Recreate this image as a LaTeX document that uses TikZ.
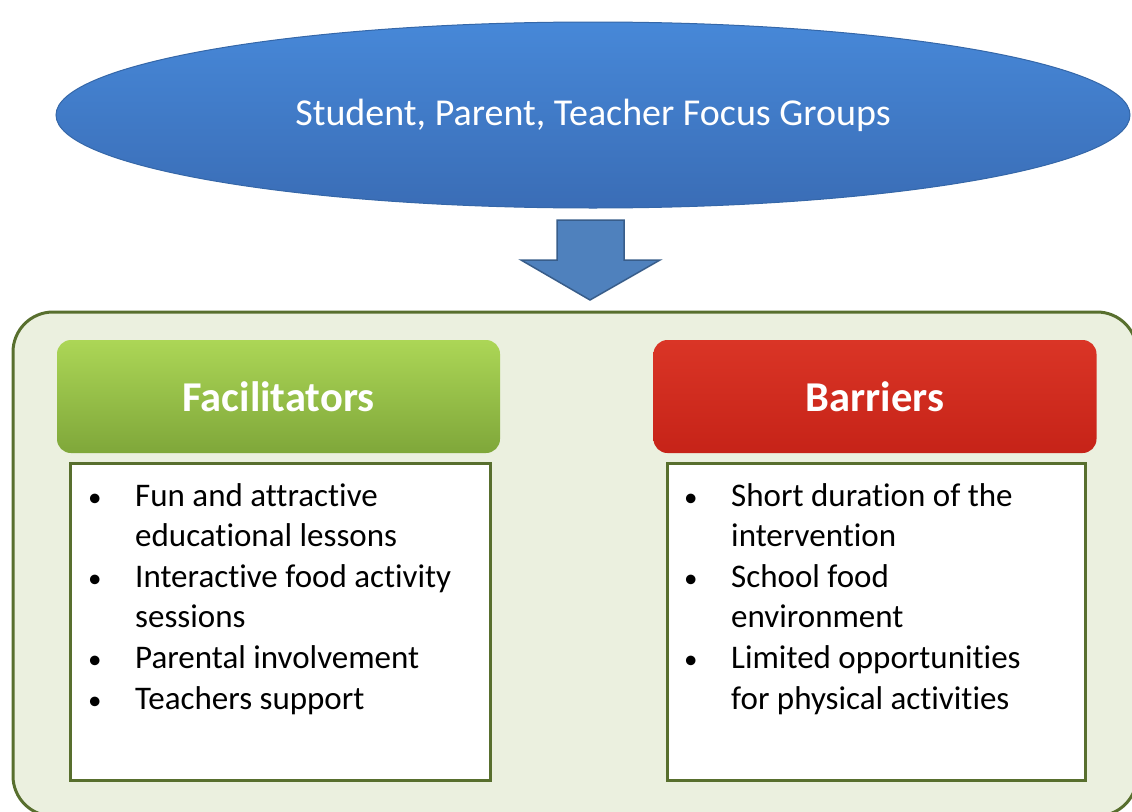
\documentclass[tikz,border=0pt]{standalone}
\usepackage{fontspec}
\setmainfont{Carlito}[Ligatures=NoCommon]
\usetikzlibrary{shapes.geometric, calc}

\definecolor{blueTop}{HTML}{4788D8}
\definecolor{blueBot}{HTML}{3A6DB6}
\definecolor{blueLine}{HTML}{3567A8}
\definecolor{arrowFill}{HTML}{4F81BD}
\definecolor{arrowLine}{HTML}{385D8A}
\definecolor{panelFill}{HTML}{EBF0DF}
\definecolor{oliveLine}{HTML}{586F2E}
\definecolor{greenTop}{HTML}{ACD656}
\definecolor{greenBot}{HTML}{7FA73A}
\definecolor{redTop}{HTML}{DA3526}
\definecolor{redBot}{HTML}{C62318}

\newcommand{\bitem}[1]{\makebox[47pt][l]{\fontsize{27}{27}\selectfont\textbullet}#1}
\newcommand{\bcont}[1]{\hspace*{47pt}#1}

\begin{document}
\begin{tikzpicture}[x=1pt, y=-1pt]
    \tikzstyle{groups} = [ellipse, minimum width=1074pt, minimum height=186pt, draw=blueLine, line width=1pt, top color=blueTop, bottom color=blueBot, text=white, font=\fontsize{38}{44}\selectfont]
    \tikzstyle{downarrow} = [draw=arrowLine, line width=1.5pt, fill=arrowFill, line join=miter]
    \tikzstyle{heading} = [rectangle, rounded corners=14pt, minimum width=443pt, minimum height=113pt, text=white, font=\fontsize{42.5}{48}\selectfont\bfseries, draw=none]
    \tikzstyle{listbox} = [rectangle, minimum height=317pt, draw=oliveLine, line width=3pt, fill=white]
    \tikzstyle{listtext} = [align=left, anchor=north west, inner sep=0pt, font=\fontsize{33}{40.6}\selectfont]

    \clip (0,0) rectangle (1132,811);

    % outer panel
    \draw [fill=panelFill, draw=oliveLine, line width=3pt, rounded corners=40pt] (13,312) rectangle (1137,816);

    \node (focus) [groups] at (593,115) {Student, Parent, Teacher Focus Groups};

    % block arrow
    \coordinate (down) at (590,260);
    \draw [downarrow] ($(down)+(-33,-40)$) -- ++(67,0) -- ++(0,40) -- ++(36,0)
        -- ($(down)+(0,40)$) -- ($(down)+(-69,0)$) -- ++(36,0) -- cycle;

    \node (facil) [heading, top color=greenTop, bottom color=greenBot] at (278.5,396.5) {Facilitators};
    \node (barr) [heading, top color=redTop, bottom color=redBot] at (875,396.5) {Barriers};

    \node (facilbox) [listbox, minimum width=420pt] at (280,621.5) {};
    \node (barrbox) [listbox, minimum width=418pt] at (876,621.5) {};

    \node (faciltext) [listtext] at (88,483) {\bitem{Fun and attractive}\\
        \bcont{educational lessons}\\
        \bitem{Interactive food activity}\\
        \bcont{sessions}\\
        \bitem{Parental involvement}\\
        \bitem{Teachers support}};
    \node (barrtext) [listtext] at (684,483) {\bitem{Short duration of the}\\
        \bcont{intervention}\\
        \bitem{School food}\\
        \bcont{environment}\\
        \bitem{Limited opportunities}\\
        \bcont{for physical activities}};
\end{tikzpicture}
\end{document}
